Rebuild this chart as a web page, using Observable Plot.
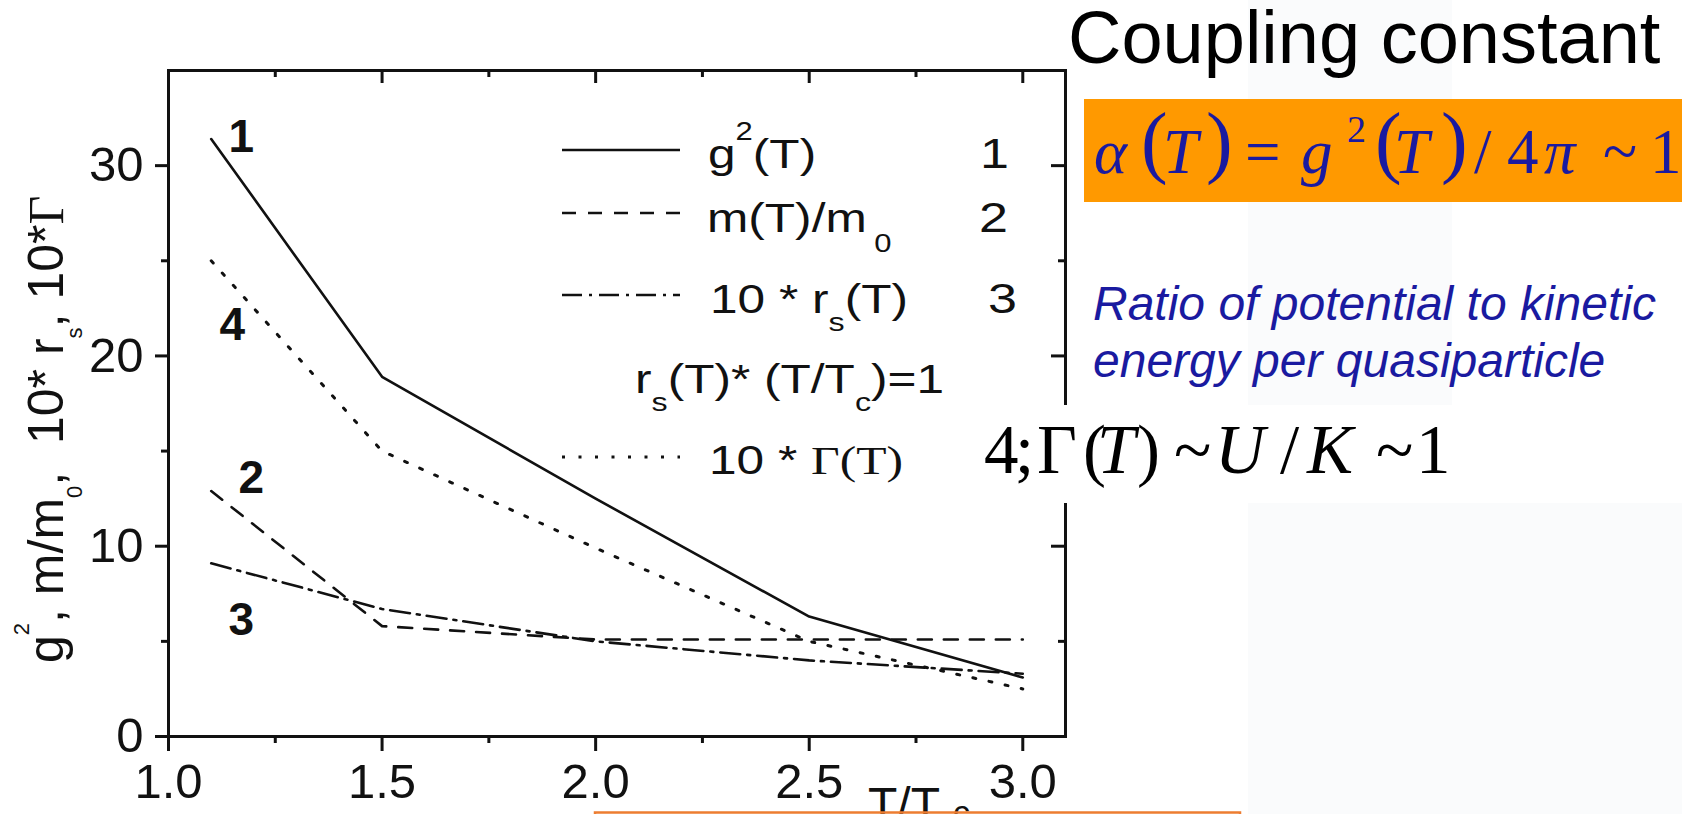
<!DOCTYPE html>
<html><head><meta charset="utf-8">
<script src="https://cdn.jsdelivr.net/npm/d3@7"></script>
<script src="https://cdn.jsdelivr.net/npm/@observablehq/plot@0.6"></script>
<style>
html,body{margin:0;padding:0;background:#fff;overflow:hidden;}
#chart{position:relative;width:1682px;height:814px;}
text.free{white-space:pre;}
</style></head><body><div id="chart"></div>
<script>
// ---- data ----
const temperature   = [1.1, 1.5, 2.0, 2.5, 3.0];      // T/Tc
const g2Values      = [31.4, 18.9, 12.5, 6.3, 3.1];   // curve 1
const massRatio     = [12.9, 5.8, 5.1, 5.1, 5.1];     // curve 2
const rs10Values    = [9.1, 6.7, 5.0, 4.0, 3.3];      // curve 3
const gamma10Values = [25.0, 15.0, 9.9, 5.0, 2.5];    // curve 4
const curveNumbers  = ["1", "2", "3", "4"];
const xMajorTicks = [1.0, 1.5, 2.0, 2.5, 3.0];
const xMinorTicks = [1.25, 1.75, 2.25, 2.75];
const yMajorTicks = [0, 10, 20, 30];
const yMinorTicks = [5, 15, 25];

const rows = temperature.map((t, i) => ({T: t, g2: g2Values[i], m: massRatio[i], rs: rs10Values[i], gamma: gamma10Values[i]}));

const W = 1682, H = 814, mL = 168, mR = 617, mT = 70, mB = 78;
const frameW = W - mL - mR, frameH = H - mT - mB;
const ink = "#111";
const sans = "'Liberation Sans', Arial, sans-serif";
const serif = "'Liberation Serif', 'Times New Roman', serif";
const blue = "#1a1aa0";

const plot = Plot.plot({
  width: W, height: H,
  marginLeft: mL, marginRight: mR, marginTop: mT, marginBottom: mB,
  x: {domain: [1.0, 3.1], label: null},
  y: {domain: [0, 35], label: null},
  style: {fontFamily: sans, color: ink, background: "#fff", overflow: "visible"},
  marks: [
    Plot.line(rows, {x: "T", y: "g2", stroke: ink, strokeWidth: 2.6}),
    Plot.line(rows, {x: "T", y: "m", stroke: ink, strokeWidth: 2.6, strokeDasharray: "14,12"}),
    Plot.line(rows, {x: "T", y: "rs", stroke: ink, strokeWidth: 2.6, strokeDasharray: "20,7,3,7"}),
    Plot.line(rows, {x: "T", y: "gamma", stroke: ink, strokeWidth: 3, strokeDasharray: "3,13.5"}),
    Plot.text([rows[0]], {x: "T", y: "g2", text: () => curveNumbers[0], dx: 30, dy: -2, fontSize: 46, fontWeight: "bold"}),
    Plot.text([rows[0]], {x: "T", y: "m", text: () => curveNumbers[1], dx: 40, dy: -13, fontSize: 46, fontWeight: "bold"}),
    Plot.text([rows[0]], {x: "T", y: "rs", text: () => curveNumbers[2], dx: 30, dy: 57, fontSize: 46, fontWeight: "bold"}),
    Plot.text([rows[0]], {x: "T", y: "gamma", text: () => curveNumbers[3], dx: 21, dy: 64, fontSize: 46, fontWeight: "bold"}),
    Plot.frame({stroke: ink, strokeWidth: 3}),
    Plot.axisY(yMajorTicks, {anchor: "left", tickSize: 13, tickPadding: 12, fontSize: 49, strokeWidth: 3, label: null}),
    Plot.axisY(yMinorTicks, {anchor: "left", tickSize: 7, tickFormat: () => "", strokeWidth: 3, label: null}),
    Plot.axisX(xMajorTicks, {anchor: "bottom", tickSize: 15, tickPadding: 12, fontSize: 49, tickFormat: d3.format(".1f"), strokeWidth: 3, label: null}),
    Plot.axisX(xMinorTicks, {anchor: "bottom", tickSize: 7, tickFormat: () => "", strokeWidth: 3, label: null}),
    Plot.tickX(xMajorTicks, {x: d => d, insetBottom: frameH - 13, stroke: ink, strokeWidth: 3}),
    Plot.tickX(xMinorTicks, {x: d => d, insetBottom: frameH - 7, stroke: ink, strokeWidth: 3}),
    Plot.tickY(yMajorTicks, {y: d => d, insetLeft: frameW - 14, stroke: ink, strokeWidth: 3}),
    Plot.tickY(yMinorTicks, {y: d => d, insetLeft: frameW - 7, stroke: ink, strokeWidth: 3})
  ]
});
document.getElementById("chart").appendChild(plot);

const svg = d3.select(plot);

function richText(parent, x, y, size, family, fill, parts, extra = {}) {
  const t = parent.append("text").attr("class", "free").attr("x", x).attr("y", y)
    .attr("text-anchor", "start")
    .attr("font-size", size).attr("font-family", family).attr("fill", fill);
  for (const k in extra) t.attr(k, extra[k]);
  let shift = 0;
  for (const p of parts) {
    const s = t.append("tspan").text(p.t);
    const target = p.dy || 0;
    s.attr("dy", target - shift); shift = target;
    if (p.dx) s.attr("dx", p.dx);
    if (p.size) s.attr("font-size", p.size);
    if (p.family) s.attr("font-family", p.family);
    if (p.italic) s.attr("font-style", "italic");
  }
  return t;
}

// faint background panels on the right
svg.append("rect").attr("x", 1248).attr("y", 0).attr("width", 204).attr("height", 405).attr("fill", "#fafbfc");
svg.append("rect").attr("x", 1248).attr("y", 503).attr("width", 434).attr("height", 311).attr("fill", "#fafbfc");

// y axis label (rotated)
const yl = svg.append("g").attr("transform", "translate(63,663) rotate(-90)");
richText(yl, 0, 0, 50, sans, ink, [
  {t: "g"}, {t: "2", size: 22, dy: -34}, {t: ", m/m"}, {t: "0", size: 22, dy: 19},
  {t: ",  10* r"}, {t: "s", size: 22, dy: 19}, {t: ", 10*"}, {t: "Γ", family: serif}
]);

// legend
const legendRows = [
  {y: 150, dash: null, w: 2.6},
  {y: 213, dash: "14,12", w: 2.6},
  {y: 295, dash: "20,7,3,7", w: 2.6},
  {y: 457, dash: "3,13.5", w: 3}
];
for (const r of legendRows) {
  const l = svg.append("line").attr("x1", 562).attr("x2", 680).attr("y1", r.y).attr("y2", r.y)
    .attr("stroke", ink).attr("stroke-width", r.w);
  if (r.dash) l.attr("stroke-dasharray", r.dash);
}
function stretched(x, y) { return svg.append("g").attr("transform", `translate(${x},${y}) scale(1.24,1)`); }
richText(stretched(708, 168), 0, 0, 40, sans, ink, [{t: "g"}, {t: "2", size: 25, dy: -28}, {t: "(T)"}]);
richText(stretched(707, 232), 0, 0, 40, sans, ink, [{t: "m(T)/m"}, {t: "0", size: 25, dy: 20, dx: 6}]);
richText(stretched(710, 313), 0, 0, 40, sans, ink, [{t: "10 * r"}, {t: "s", size: 26, dy: 18}, {t: "(T)"}]);
richText(stretched(635, 393), 0, 0, 40, sans, ink, [{t: "r"}, {t: "s", size: 26, dy: 18}, {t: "(T)* (T/T"}, {t: "c", size: 26, dy: 18}, {t: ")=1"}]);
richText(stretched(709, 474), 0, 0, 40, sans, ink, [{t: "10 * "}, {t: "Γ(T)", family: serif}]);
richText(stretched(980, 168), 0, 0, 42, sans, ink, [{t: curveNumbers[0]}]);
richText(stretched(979, 232), 0, 0, 42, sans, ink, [{t: curveNumbers[1]}]);
richText(stretched(988, 313), 0, 0, 42, sans, ink, [{t: curveNumbers[2]}]);

// x axis label (partly cut by page bottom)
richText(svg, 868, 821, 48, sans, ink, [{t: "T/T"}]);
richText(svg, 953, 824, 34, sans, ink, [{t: "c"}]);
svg.append("rect").attr("x", 595).attr("y", 812.5).attr("width", 645).attr("height", 40)
  .attr("fill", "none").attr("stroke", "#ED7D31").attr("stroke-width", 2.5);

// right-side texts
richText(svg, 1068, 63, 74, sans, "#000", [{t: "Coupling constant"}]);
svg.append("rect").attr("x", 1084).attr("y", 99).attr("width", 610).attr("height", 103).attr("fill", "#FF9900");
const alphaParts = [
  ["α", 1094, 63, true, 173], ["(", 1141, 80, false, 168], ["T", 1163, 63, true, 173], [")", 1206, 80, false, 168],
  ["=", 1245, 63, false, 173], ["g", 1301, 63, true, 173], ["2", 1347, 38, false, 142],
  ["(", 1375, 80, false, 168], ["T", 1394, 63, true, 173], [")", 1441, 80, false, 168],
  ["/", 1474, 63, false, 173], ["4", 1507, 63, false, 173], ["π", 1544, 63, true, 173],
  ["~", 1603, 63, false, 173], ["1", 1650, 63, false, 173]
];
for (const [t, x, s, it, y] of alphaParts) richText(svg, x, y, s, serif, blue, [{t, italic: it}]);

richText(svg, 1093, 320, 48, sans, blue, [{t: "Ratio of potential to kinetic"}], {"font-style": "italic"});
richText(svg, 1093, 377, 48, sans, blue, [{t: "energy per quasiparticle"}], {"font-style": "italic"});

svg.append("rect").attr("x", 978).attr("y", 405).attr("width", 474).attr("height", 98).attr("fill", "#fff");
const gammaParts = [
  ["4", 984, false], [";", 1015, false], ["Γ", 1037, false], ["(", 1083, false], ["T", 1097, true],
  [")", 1137, false], ["~", 1174, false], ["U", 1215, true], ["/", 1280, false], ["K", 1307, true],
  ["~", 1376, false], ["1", 1416, false]
];
for (const [t, x, it] of gammaParts) richText(svg, x, 473, 69, serif, "#000", [{t, italic: it}]);
</script></body></html>
